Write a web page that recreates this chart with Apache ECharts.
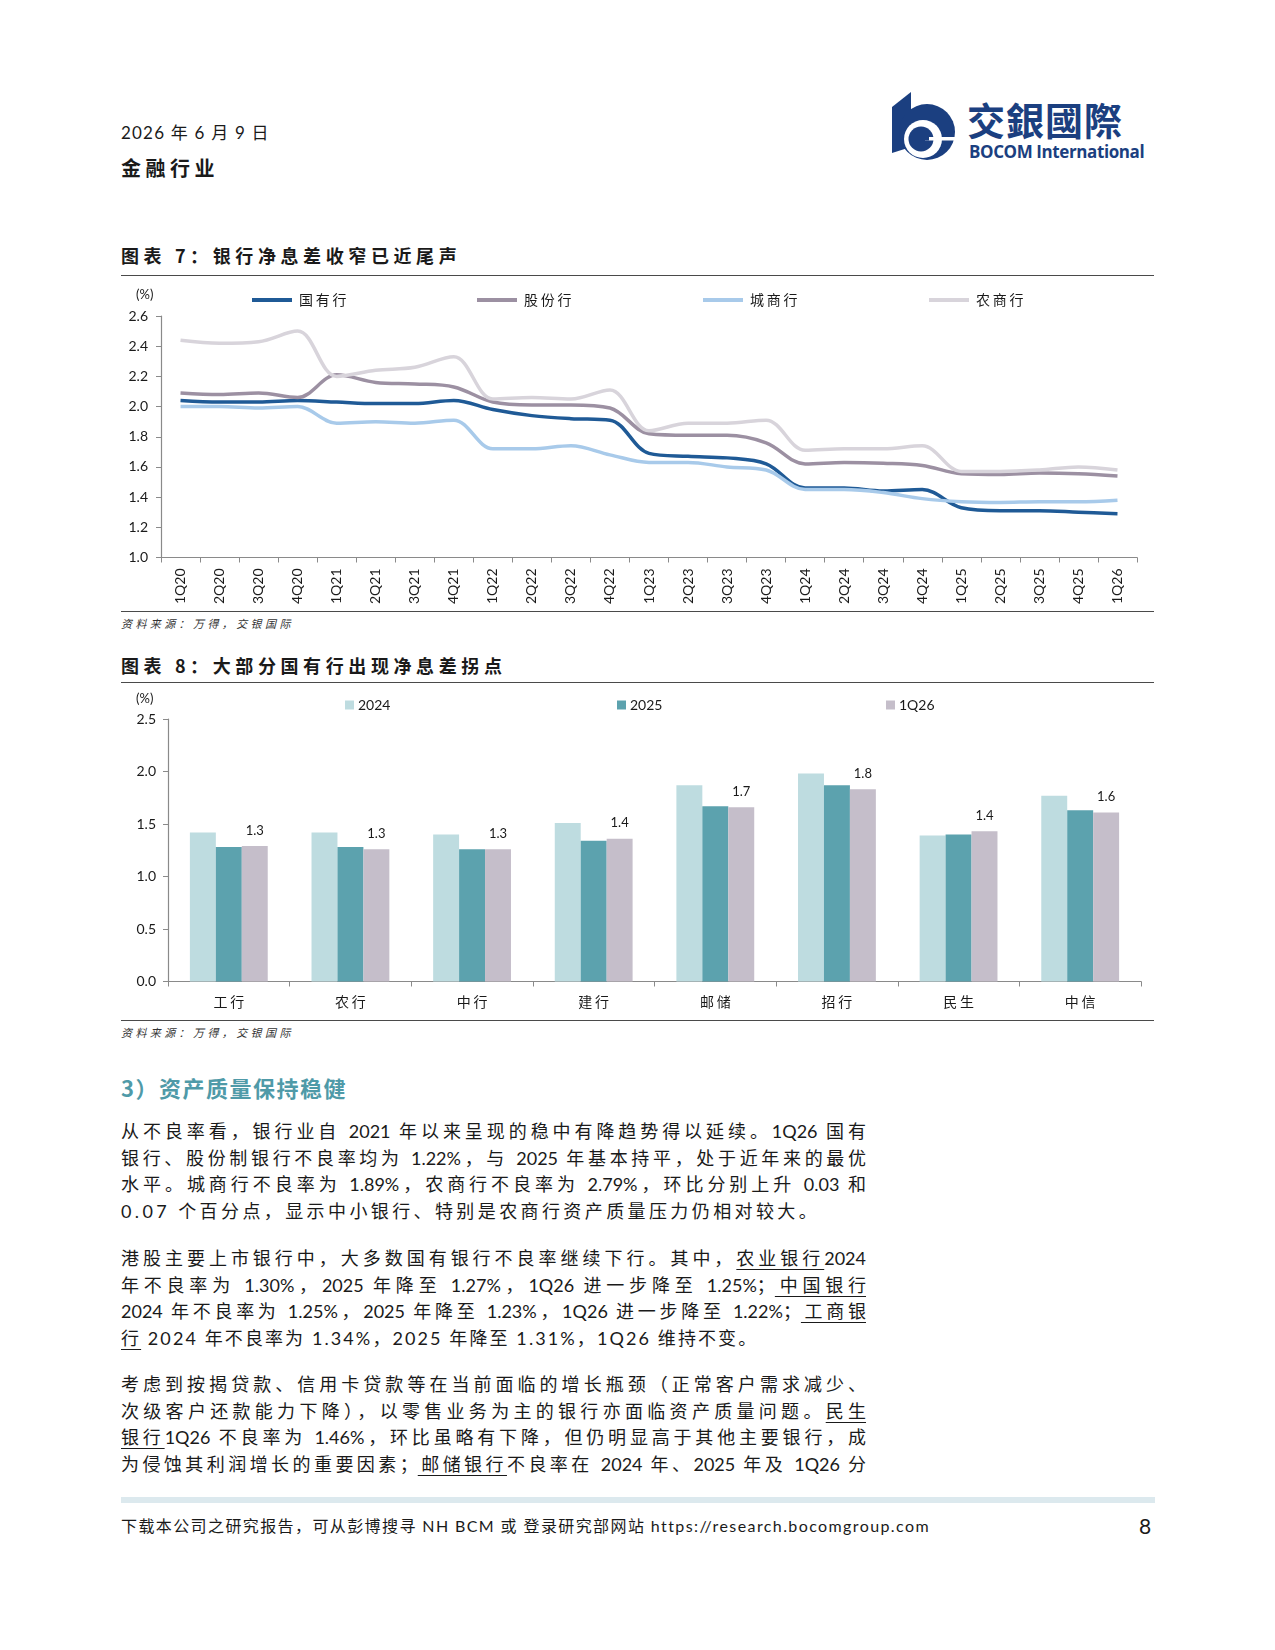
<!DOCTYPE html>
<html><head><meta charset="utf-8">
<script src="https://cdn.jsdelivr.net/npm/echarts@6/dist/echarts.min.js"></script>
<style>
html,body{margin:0;padding:0;background:#fff;}
body{width:1275px;height:1650px;position:relative;overflow:hidden;font-family:"Lato","Noto Sans CJK SC",sans-serif;color:#1a1a1a;}
.a{position:absolute;white-space:nowrap;}
.rule{position:absolute;left:121px;width:1033px;height:0;border-top:1.5px solid #4a4a4a;}
.title{font-family:"Noto Sans CJK SC",sans-serif;font-weight:bold;font-size:18px;letter-spacing:4.6px;line-height:20px;}
.src{font-family:"Noto Sans CJK SC",sans-serif;font-style:italic;font-size:11px;line-height:14px;color:#333;letter-spacing:3.4px;}
.para{position:absolute;left:121px;width:745px;font-size:18px;line-height:26.67px;}
.para div{white-space:nowrap;}
.j{text-align:justify;text-align-last:justify;white-space:normal !important;}
u{text-decoration:underline;text-underline-offset:4px;text-decoration-thickness:1px;}
</style>
</head><body>

<div class="a" style="left:121px;top:123px;font-size:17px;line-height:20px;letter-spacing:1.2px;">2026 年 6 月 9 日</div>
<div class="a" style="left:121px;top:155px;font-size:20px;line-height:26px;font-weight:bold;font-family:'Noto Sans CJK SC';letter-spacing:4.5px;">金融行业</div>

<svg class="a" style="left:885px;top:85px;" width="80" height="90" viewBox="0 0 80 90">
  <polygon points="7,22 26,7 26,62 7,68" fill="#1B3F80"/>
  <circle cx="42" cy="47" r="28" fill="#1B3F80"/>
  <circle cx="38" cy="54" r="19" fill="#fff"/>
  <circle cx="36" cy="54" r="12.5" fill="#1B3F80"/>
  <rect x="40" y="52" width="32" height="3.5" fill="#fff"/>
  <rect x="36" y="52" width="8" height="3.5" fill="#1B3F80"/>
</svg>
<div class="a" style="left:967px;top:96px;font-size:38px;line-height:46px;font-weight:bold;color:#1B3F80;font-family:'Noto Sans CJK TC';letter-spacing:1px;">交銀國際</div>
<div class="a" style="left:969px;top:142px;font-size:17px;line-height:20px;font-weight:bold;color:#1B3F80;font-family:'Open Sans';letter-spacing:-0.4px;">BOCOM International</div>

<div class="a title" style="left:121px;top:245px;">图表 7：银行净息差收窄已近尾声</div>
<div class="rule" style="top:275px;"></div>
<div id="c1" class="a" style="left:121px;top:280px;width:1033px;height:331px;"></div>
<div class="rule" style="top:611px;"></div>
<div class="a src" style="left:121px;top:616px;">资料来源：万得，交银国际</div>

<div class="a title" style="left:121px;top:655px;">图表 8：大部分国有行出现净息差拐点</div>
<div class="rule" style="top:682px;"></div>
<div id="c2" class="a" style="left:121px;top:684px;width:1033px;height:334px;"></div>
<div class="rule" style="top:1020px;"></div>
<div class="a src" style="left:121px;top:1025px;">资料来源：万得，交银国际</div>

<div class="a" style="left:121px;top:1073px;font-size:22px;line-height:28px;font-weight:bold;color:#4F9AA8;font-family:'Noto Sans CJK SC';letter-spacing:1.5px;">3）资产质量保持稳健</div>

<div class="para" style="top:1118px;">
<div class="j">从不良率看，银行业自 2021 年以来呈现的稳中有降趋势得以延续。1Q26 国有</div>
<div class="j">银行、股份制银行不良率均为 1.22%，与 2025 年基本持平，处于近年来的最优</div>
<div class="j">水平。城商行不良率为 1.89%，农商行不良率为 2.79%，环比分别上升 0.03 和</div>
<div style="letter-spacing:3.4px;">0.07 个百分点，显示中小银行、特别是农商行资产质量压力仍相对较大。</div>
</div>

<div class="para" style="top:1245px;">
<div class="j">港股主要上市银行中，大多数国有银行不良率继续下行。其中，<u>农业银行</u>2024</div>
<div class="j">年不良率为 1.30%，2025 年降至 1.27%，1Q26 进一步降至 1.25%；<u>中国银行</u></div>
<div class="j">2024 年不良率为 1.25%，2025 年降至 1.23%，1Q26 进一步降至 1.22%；<u>工商银</u></div>
<div style="letter-spacing:2.1px;"><u>行</u> 2024 年不良率为 1.34%，2025 年降至 1.31%，1Q26 维持不变。</div>
</div>

<div class="para" style="top:1371px;">
<div class="j">考虑到按揭贷款、信用卡贷款等在当前面临的增长瓶颈（正常客户需求减少、</div>
<div class="j">次级客户还款能力下降），以零售业务为主的银行亦面临资产质量问题。<u>民生</u></div>
<div class="j"><u>银行</u>1Q26 不良率为 1.46%，环比虽略有下降，但仍明显高于其他主要银行，成</div>
<div class="j">为侵蚀其利润增长的重要因素；<u>邮储银行</u>不良率在 2024 年、2025 年及 1Q26 分</div>
</div>

<div class="a" style="left:121px;top:1497px;width:1034px;height:6px;background:#DCE9EE;"></div>
<div class="a" style="left:121px;top:1516px;font-size:16px;line-height:20px;letter-spacing:1.4px;">下载本公司之研究报告，可从彭博搜寻 NH BCM 或 登录研究部网站 https://research.bocomgroup.com</div>
<div class="a" style="left:1139px;top:1513px;font-size:21px;line-height:26px;">8</div>

<script>
// ---------- Chart 7 data ----------
const quarters = ['1Q20','2Q20','3Q20','4Q20','1Q21','2Q21','3Q21','4Q21','1Q22','2Q22','3Q22','4Q22','1Q23','2Q23','3Q23','4Q23','1Q24','2Q24','3Q24','4Q24','1Q25','2Q25','3Q25','4Q25','1Q26'];
const lineNames = ['国有行','股份行','城商行','农商行'];
const stateOwned = [2.04,2.03,2.03,2.04,2.03,2.02,2.02,2.04,1.98,1.94,1.92,1.91,1.69,1.67,1.66,1.62,1.46,1.46,1.44,1.45,1.33,1.31,1.31,1.30,1.29];
const jointStock = [2.09,2.08,2.09,2.06,2.21,2.16,2.15,2.13,2.03,2.01,2.01,1.99,1.82,1.81,1.81,1.76,1.62,1.63,1.625,1.61,1.555,1.55,1.56,1.555,1.54];
const cityComm  = [2.00,2.00,1.99,2.00,1.89,1.90,1.89,1.91,1.72,1.72,1.74,1.68,1.63,1.63,1.60,1.58,1.45,1.45,1.43,1.39,1.37,1.365,1.37,1.37,1.38];
const ruralComm = [2.44,2.42,2.43,2.50,2.20,2.24,2.26,2.33,2.05,2.06,2.05,2.11,1.84,1.89,1.89,1.91,1.71,1.72,1.72,1.74,1.57,1.57,1.58,1.60,1.58];
const lineTicks = {min:1.0, max:2.6, interval:0.2};

// ---------- Chart 8 data ----------
const banks = ['工行','农行','中行','建行','邮储','招行','民生','中信'];
const barNames = ['2024','2025','1Q26'];
const nim2024 = [1.42,1.42,1.40,1.51,1.87,1.98,1.39,1.77];
const nim2025 = [1.28,1.28,1.26,1.34,1.67,1.87,1.40,1.63];
const nim1Q26 = [1.29,1.26,1.26,1.36,1.66,1.83,1.43,1.61];
const barTicks = {min:0, max:2.5, interval:0.5};

const NUMF = '"Lato","Noto Sans CJK SC",sans-serif';
const CJKF = '"Noto Sans CJK SC",sans-serif';
const AX = '#8a8a8a';
const TXT = '#1a1a1a';
const spaced = s => s.split('').join('\u2009');

const c1 = echarts.init(document.getElementById('c1'), null, {renderer:'canvas'});
const lineColors = ['#1F5A96','#9C90A2','#A8CAEA','#D8D4DB'];
const lineData = [stateOwned, jointStock, cityComm, ruralComm];
const legend1Left = [131, 356, 582, 808];
c1.setOption({
  animation:false,
  textStyle:{fontFamily:NUMF},
  grid:{left:40, right:17, top:36, bottom:53.5},
  graphic:[{type:'text', left:15, top:8, style:{text:'(%)', fontSize:13, fill:TXT, fontFamily:NUMF}}],
  legend: lineNames.map((n,i)=>({
    data:[n], left:legend1Left[i], top:13, padding:0, icon:'rect', itemWidth:40, itemHeight:4,
    formatter: spaced,
    textStyle:{fontSize:14, color:TXT, fontFamily:CJKF, padding:[0,0,0,2]}
  })),
  xAxis:{type:'category', data:quarters, boundaryGap:true,
    axisLine:{lineStyle:{color:AX, width:1.2}},
    axisTick:{show:true, length:5, lineStyle:{color:AX}},
    axisLabel:{rotate:90, interval:0, fontSize:14, color:TXT, margin:11, fontFamily:NUMF}},
  yAxis:{type:'value', min:lineTicks.min, max:lineTicks.max, interval:lineTicks.interval,
    splitLine:{show:false},
    axisLine:{show:true, lineStyle:{color:AX, width:1.2}},
    axisTick:{show:true, length:5, lineStyle:{color:AX}},
    axisLabel:{fontSize:14, color:TXT, margin:13, fontFamily:NUMF, formatter:v=>v.toFixed(1)}},
  series: lineNames.map((n,i)=>({
    name:n, type:'line', data:lineData[i], smooth:0.35, showSymbol:false, symbol:'none',
    itemStyle:{color:lineColors[i]}, lineStyle:{color:lineColors[i], width:3.5}
  }))
});

const c2 = echarts.init(document.getElementById('c2'), null, {renderer:'canvas'});
const barColors = ['#BEDCE0','#5CA2AE','#C5BECA'];
const barData = [nim2024, nim2025, nim1Q26];
const legend2Left = [224, 496, 765];
c2.setOption({
  animation:false,
  textStyle:{fontFamily:NUMF},
  grid:{left:47, right:13, top:35, bottom:36.5},
  graphic:[{type:'text', left:15, top:8, style:{text:'(%)', fontSize:13, fill:TXT, fontFamily:NUMF}}],
  legend: barNames.map((n,i)=>({
    data:[n], left:legend2Left[i], top:14, padding:0, icon:'rect', itemWidth:9, itemHeight:9,
    textStyle:{fontSize:14, color:TXT, fontFamily:NUMF, padding:[0,0,0,-1]}
  })),
  xAxis:{type:'category', data:banks,
    axisLine:{lineStyle:{color:AX, width:1.2}},
    axisTick:{show:true, length:5, lineStyle:{color:AX}},
    axisLabel:{fontSize:14, color:TXT, margin:13, fontFamily:CJKF, formatter:spaced}},
  yAxis:{type:'value', min:barTicks.min, max:barTicks.max, interval:barTicks.interval,
    splitLine:{show:false},
    axisLine:{show:true, lineStyle:{color:AX, width:1.2}},
    axisTick:{show:true, length:5, lineStyle:{color:AX}},
    axisLabel:{fontSize:14, color:TXT, margin:12, fontFamily:NUMF, formatter:v=>v.toFixed(1)}},
  series: barNames.map((n,i)=>({
    name:n, type:'bar', data:barData[i], barGap:'0%', barCategoryGap:'36%',
    itemStyle:{color:barColors[i]},
    label: i===2 ? {show:true, position:'top', distance:9, fontSize:13, color:TXT, fontFamily:NUMF, formatter:p=>p.value.toFixed(1)} : {show:false}
  }))
});
</script>
</body></html>
